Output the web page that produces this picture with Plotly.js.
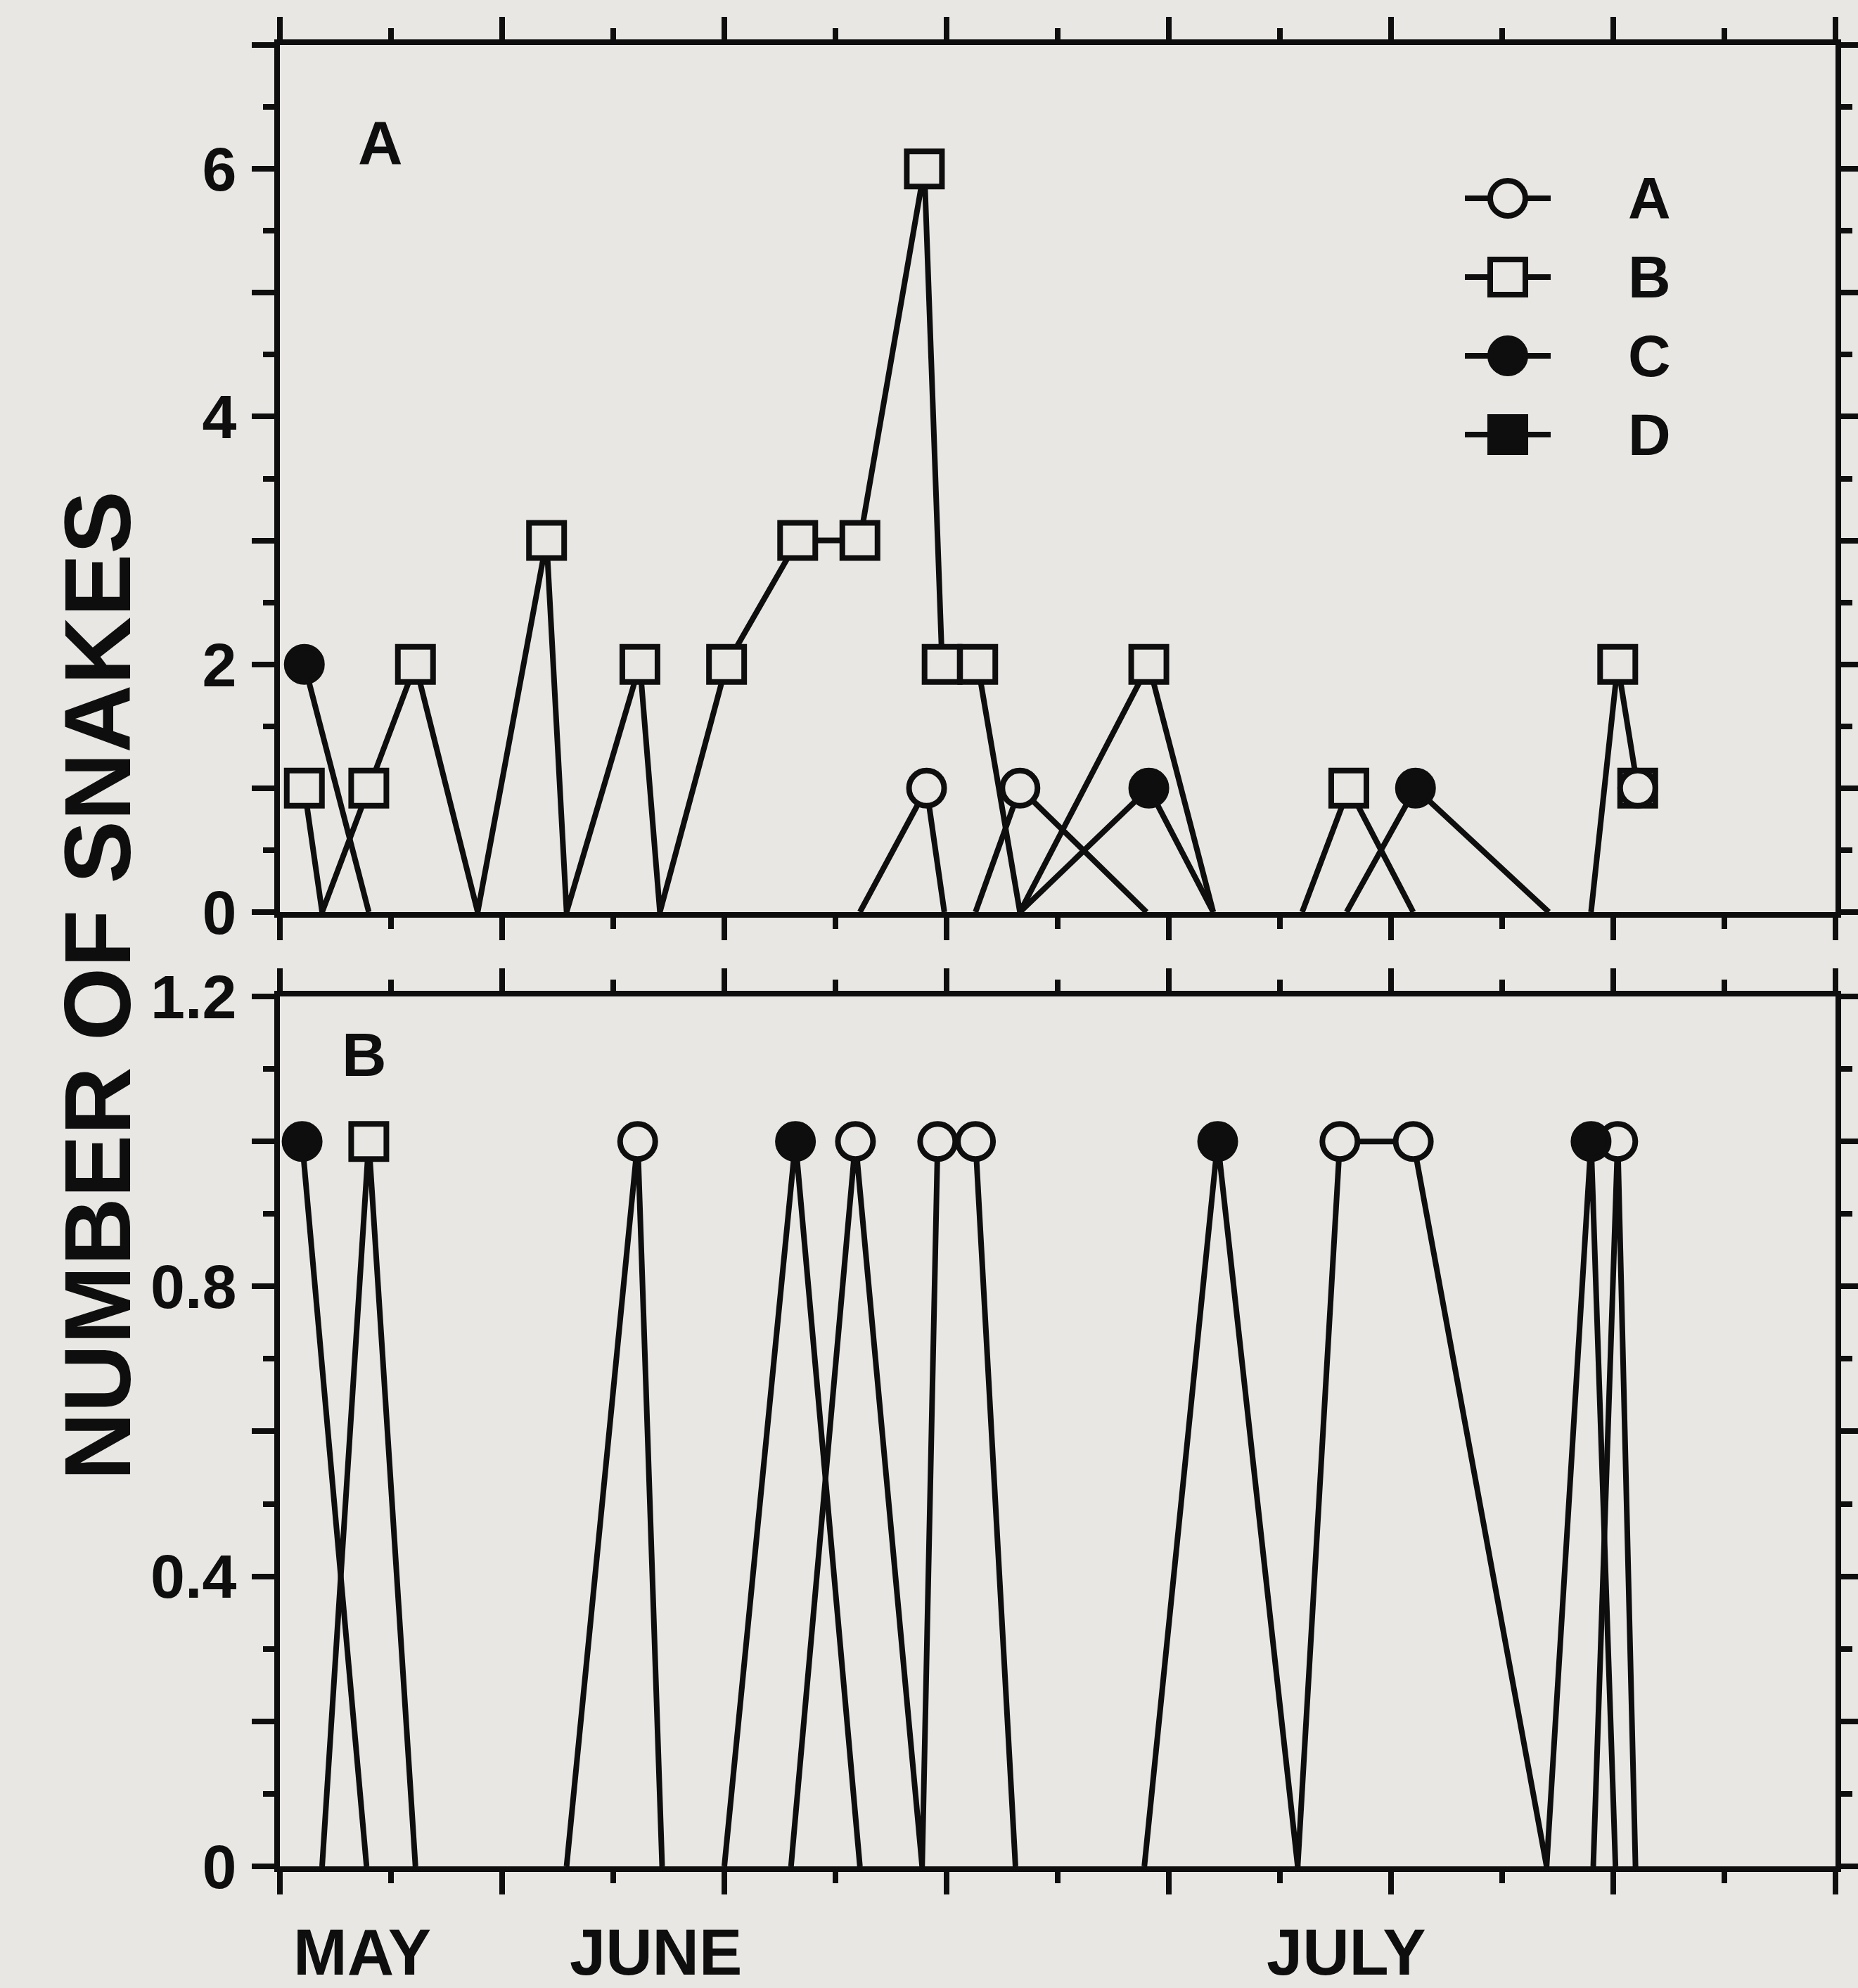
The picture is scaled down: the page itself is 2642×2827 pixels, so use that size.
<!DOCTYPE html>
<html>
<head>
<meta charset="utf-8">
<script src="https://cdn.plot.ly/plotly-3.0.1.min.js"></script>
<style>
  html, body { margin: 0; padding: 0; background: #e8e7e4; }
  #chart { width: 2642px; height: 2827px; }
</style>
</head>
<body>
<div id="chart"></div>
<script>
// ---------------- DATA (x = sampling day; one minor tick = 5 days) ----------------
const seriesNames = ['A', 'B', 'C', 'D'];

// Panel A (upper)
const topDaysA  = [26.1, 29.1, 29.9, null, 31.3, 33.3, 39.0, null, 61.1];
const topCountA = [0,    1,    0,    null, 0,    1,    0,    null, 1];

const topDaysB  = [1.1, 1.9, 4.0, 6.1, 8.9, 12.0, 12.9, 16.2, 17.1, 20.1, 23.3, 26.1, 29.0, 29.8, 31.4, 33.3, 39.1, 42.0, null, 46.0, 48.1, 51.0, null, 59.0, 60.2, 61.1];
const topCountB = [1,   0,   1,   2,   0,   3,    0,    2,    0,    2,    3,    3,    6,    2,    2,    0,    2,    0,    null, 0,    1,    0,    null, 0,    2,    1];

const topDaysC  = [1.1, 4.0, null, 33.3, 39.1, 42.0, null, 48.0, 51.1, 57.1];
const topCountC = [2,   0,   null, 0,    1,    0,    null, 0,    1,    0];

const topDaysD  = [];
const topCountD = [];

// Panel B (lower)
const botDaysA  = [12.9, 16.1, 17.2, null, 23.0, 25.9, 28.9, 29.6, 31.3, 33.1, null, 45.8, 47.7, 51.0, 57.0, null, 59.1, 60.2, 61.0];
const botCountA = [0,    1,    0,    null, 0,    1,    0,    1,    1,    0,    null, 0,    1,    1,    0,    null, 0,    1,    0];

const botDaysB  = [1.9, 4.0, 6.1];
const botCountB = [0,   1,   0];

const botDaysC  = [1.0, 3.9, null, 20.0, 23.2, 26.1, null, 38.9, 42.2, 45.8, null, 57.0, 59.0, 60.1];
const botCountC = [1,   0,   null, 0,    1,    0,    null, 0,    1,    0,    null, 0,    1,    0];

const botDaysD  = [];
const botCountD = [];

// Axis ticks / labels
const dayRange      = [0, 70];
const topTickVals   = [0, 1, 2, 3, 4, 5, 6, 7];
const topTickText   = ['0', '', '2', '', '4', '', '6', ''];
const botTickVals   = [0, 0.2, 0.4, 0.6, 0.8, 1.0, 1.2];
const botTickText   = ['0', '', '0.4', '', '0.8', '', '1.2'];
const monthLabels   = ['MAY', 'JUNE', 'JULY'];
const monthLabelDay = [3.7, 16.9, 48.0];
const yTitle        = 'NUMBER OF SNAKES';
const panelLabels   = ['A', 'B'];

// ---------------- STYLE ----------------
const BG = '#e8e7e4';
const INK = '#0e0e0e';
const LW = 8;
const MSIZE = 50;
const FONT = 'Liberation Sans, Arial, Helvetica, sans-serif';
const symbols = { A: 'circle', B: 'square', C: 'circle', D: 'square' };
const fills   = { A: BG, B: BG, C: INK, D: INK };

function sizes(vals) { return vals.map(v => (v === null || v === 0) ? 0 : MSIZE); }

function series(name, xs, ys, xa, ya) {
  return {
    type: 'scatter', mode: 'lines+markers', name: name,
    x: xs, y: ys, xaxis: xa, yaxis: ya, connectgaps: false,
    line: { color: INK, width: LW },
    marker: { symbol: symbols[name], size: sizes(ys), color: fills[name], opacity: 1,
              line: { color: INK, width: LW } },
    showlegend: false, hoverinfo: 'skip', cliponaxis: true
  };
}

// drawing order: B, A, C, D
const traces = [
  series('B', topDaysB, topCountB, 'x', 'y'),
  series('A', topDaysA, topCountA, 'x', 'y'),
  series('C', topDaysC, topCountC, 'x', 'y'),
  series('D', topDaysD, topCountD, 'x', 'y'),
  series('B', botDaysB, botCountB, 'x2', 'y2'),
  series('A', botDaysA, botCountA, 'x2', 'y2'),
  series('C', botDaysC, botCountC, 'x2', 'y2'),
  series('D', botDaysD, botCountD, 'x2', 'y2')
];

// custom key drawn on an overlay axis measured in pixels of the upper panel
const KEY_X = [1685, 1746, 1807];
const KEY_Y0 = 218, KEY_DY = 112;
const KEY_LABEL_X = 1947;
seriesNames.forEach((n, i) => {
  const yy = KEY_Y0 + i * KEY_DY;
  traces.push({
    type: 'scatter', mode: 'lines+markers', x: KEY_X, y: [yy, yy, yy],
    xaxis: 'x3', yaxis: 'y3', showlegend: false, hoverinfo: 'skip', cliponaxis: false,
    line: { color: INK, width: LW },
    marker: { symbol: symbols[n], size: [0, MSIZE, 0], color: fills[n], opacity: 1,
              line: { color: INK, width: LW } }
  });
});

const tickFont = { family: FONT, size: 88, color: INK, weight: 700 };

function xAxis(anchor) {
  return {
    anchor: anchor, domain: [0, 1], range: dayRange, fixedrange: true,
    showline: true, linewidth: LW, linecolor: INK, mirror: 'allticks',
    ticks: 'outside', tickmode: 'linear', tick0: 0, dtick: 10, ticklen: 32, tickwidth: LW, tickcolor: INK,
    minor: { ticks: 'outside', tickmode: 'linear', tick0: 0, dtick: 5, ticklen: 16, tickwidth: LW, tickcolor: INK, showgrid: false },
    showticklabels: false, showgrid: false, zeroline: false
  };
}
function yAxis(anchor, domain, range, vals, text, minorStep) {
  return {
    anchor: anchor, domain: domain, range: range, fixedrange: true,
    showline: true, linewidth: LW, linecolor: INK, mirror: 'allticks',
    ticks: 'outside', tickmode: 'array', tickvals: vals, ticktext: text,
    ticklen: 32, tickwidth: LW, tickcolor: INK, tickfont: tickFont, ticklabelstandoff: 4,
    minor: { ticks: 'outside', tickmode: 'linear', tick0: 0, dtick: minorStep, ticklen: 16, tickwidth: LW, tickcolor: INK, showgrid: false },
    showgrid: false, zeroline: false
  };
}

const TOP_DOMAIN = [0.52394, 1];
const BOT_DOMAIN = [0, 0.47761];

const annotations = [];
monthLabels.forEach((m, i) => {
  annotations.push({ xref: 'x2', yref: 'paper', x: monthLabelDay[i], y: -0.0471, text: m, showarrow: false,
    xanchor: 'center', yanchor: 'middle', font: { family: FONT, size: 92, color: INK, weight: 700 } });
});
annotations.push({ xref: 'paper', yref: 'paper', x: 0.0646, y: 0.9467, text: panelLabels[0], showarrow: false,
  xanchor: 'center', yanchor: 'middle', font: { family: FONT, size: 88, color: INK, weight: 700 } });
annotations.push({ xref: 'paper', yref: 'paper', x: 0.0543, y: 0.4456, text: panelLabels[1], showarrow: false,
  xanchor: 'center', yanchor: 'middle', font: { family: FONT, size: 88, color: INK, weight: 700 } });
annotations.push({ xref: 'paper', yref: 'paper', x: -0.117, y: 0.4834, text: yTitle, textangle: -90, showarrow: false,
  xanchor: 'center', yanchor: 'middle', font: { family: FONT, size: 134, color: INK, weight: 700 } });
seriesNames.forEach((n, i) => {
  annotations.push({ xref: 'x3', yref: 'y3', x: KEY_LABEL_X, y: KEY_Y0 + i * KEY_DY, text: n, showarrow: false,
    xanchor: 'center', yanchor: 'middle', font: { family: FONT, size: 84, color: INK, weight: 700 } });
});

const layout = {
  width: 2642, height: 2827,
  margin: { l: 398, r: 32, t: 64, b: 173, pad: 0 },
  paper_bgcolor: BG, plot_bgcolor: BG,
  showlegend: false,
  xaxis: xAxis('y'),
  yaxis: yAxis('x', TOP_DOMAIN, [0, 7], topTickVals, topTickText, 0.5),
  xaxis2: xAxis('y2'),
  yaxis2: yAxis('x2', BOT_DOMAIN, [0, 1.2], botTickVals, botTickText, 0.1),
  xaxis3: { overlaying: 'x', anchor: 'y3', range: [0, 2212], visible: false, fixedrange: true },
  yaxis3: { overlaying: 'y', anchor: 'x3', range: [1233, 0], visible: false, fixedrange: true },
  annotations: annotations
};

Plotly.newPlot('chart', traces, layout, { displayModeBar: false, staticPlot: true });
</script>
</body>
</html>
